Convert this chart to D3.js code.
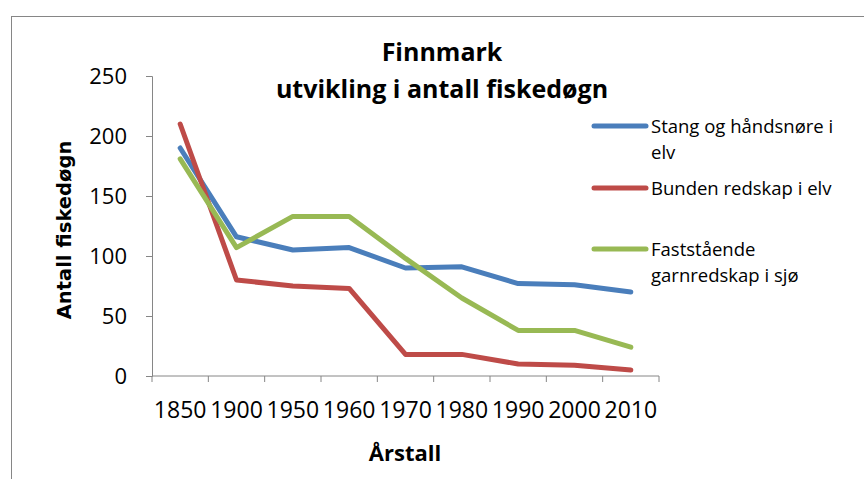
<!DOCTYPE html>
<html>
<head>
<meta charset="utf-8">
<script src="https://cdn.jsdelivr.net/npm/d3@7"></script>
<style>
  body { margin: 0; background: #fff; }
  text { font-family: "Open Sans", sans-serif; fill: #000; }
</style>
</head>
<body>
<div id="chart"></div>
<script>
// categories (årstall) and the three series
var years = ["1850", "1900", "1950", "1960", "1970", "1980", "1990", "2000", "2010"];
var stang = [190, 116, 105, 107, 90, 91, 77, 76, 70];
var bunden = [210, 80, 75, 73, 18, 18, 10, 9, 5];
var fast = [181, 107, 133, 133, 98, 65, 38, 38, 24];
var yTicks = [0, 50, 100, 150, 200, 250];

var legendLines = [["Stang og håndsnøre i", "elv"], ["Bunden redskap i elv"], ["Faststående", "garnredskap i sjø"]];
var colors = ["#4a7ebb", "#be4b48", "#98b954"];
var series = [stang, bunden, fast];

var W = 864, H = 479;
var margin = {top: 76, left: 152, right: 205, bottom: 103};

var svg = d3.select("#chart").append("svg")
    .attr("width", W)
    .attr("height", H);

// outer chart border
svg.append("rect")
    .attr("x", 11.5).attr("y", 16.5)
    .attr("width", W).attr("height", H)
    .attr("fill", "none")
    .attr("stroke", "#868686")
    .attr("stroke-width", 1);

var x = d3.scaleBand().domain(years).range([margin.left, W - margin.right]);
var y = d3.scaleLinear().domain([0, 250]).range([H - margin.bottom, margin.top]);

// y axis
var yAxis = svg.append("g")
    .attr("transform", "translate(" + margin.left + ",0)")
    .call(d3.axisLeft(y).tickValues(yTicks).tickSize(6).tickPadding(19));
yAxis.selectAll("path, line").attr("stroke", "#868686");
yAxis.selectAll("text").style("font-size", "22px").style("font-family", "'Open Sans', sans-serif");

// x axis - ticks on band edges like Excel
var xAxis = svg.append("g")
    .attr("transform", "translate(0," + y(0) + ")");
xAxis.append("line")
    .attr("x1", margin.left).attr("x2", W - margin.right)
    .attr("stroke", "#868686");
var edges = years.map(function(d) { return x(d); }).concat([W - margin.right]);
xAxis.selectAll("line.tk").data(edges).enter().append("line")
    .attr("class", "tk")
    .attr("x1", function(d) { return d; }).attr("x2", function(d) { return d; })
    .attr("y1", 0).attr("y2", 6)
    .attr("stroke", "#868686");
xAxis.selectAll("text").data(years).enter().append("text")
    .attr("x", function(d) { return x(d) + x.bandwidth() / 2; })
    .attr("y", 42)
    .attr("text-anchor", "middle")
    .style("font-size", "23px")
    .text(function(d) { return d; });

// lines
var line = d3.line()
    .x(function(d, i) { return x(years[i]) + x.bandwidth() / 2; })
    .y(function(d) { return y(d); });

series.forEach(function(s, k) {
    svg.append("path")
        .datum(s)
        .attr("d", line)
        .attr("fill", "none")
        .attr("stroke", colors[k])
        .attr("stroke-width", 5)
        .attr("stroke-linejoin", "round")
        .attr("stroke-linecap", "round");
});

// title
svg.append("text")
    .attr("x", 442).attr("y", 61)
    .attr("text-anchor", "middle")
    .style("font-size", "25px").style("font-weight", "bold")
    .text("Finnmark");
svg.append("text")
    .attr("x", 442).attr("y", 98)
    .attr("text-anchor", "middle")
    .style("font-size", "25px").style("font-weight", "bold")
    .text("utvikling i antall fiskedøgn");

// axis titles
svg.append("text")
    .attr("transform", "translate(71,230) rotate(-90)")
    .attr("text-anchor", "middle")
    .style("font-family", "'DejaVu Sans', sans-serif")
    .style("font-size", "19.5px").style("font-weight", "bold")
    .text("Antall fiskedøgn");
svg.append("text")
    .attr("x", 405).attr("y", 461)
    .attr("text-anchor", "middle")
    .style("font-size", "22px").style("font-weight", "bold")
    .text("Årstall");

// legend
var legendY = [126, 188, 249];
var leg = svg.append("g");
legendLines.forEach(function(lines, k) {
    leg.append("line")
        .attr("x1", 594).attr("x2", 646)
        .attr("y1", legendY[k]).attr("y2", legendY[k])
        .attr("stroke", colors[k])
        .attr("stroke-width", 5)
        .attr("stroke-linecap", "round");
    var t = leg.append("text")
        .attr("x", 651).attr("y", legendY[k] + 7)
        .style("font-size", "18.5px");
    lines.forEach(function(l, j) {
        t.append("tspan").attr("x", 651).attr("dy", j === 0 ? 0 : 26).text(l);
    });
});
</script>
</body>
</html>
